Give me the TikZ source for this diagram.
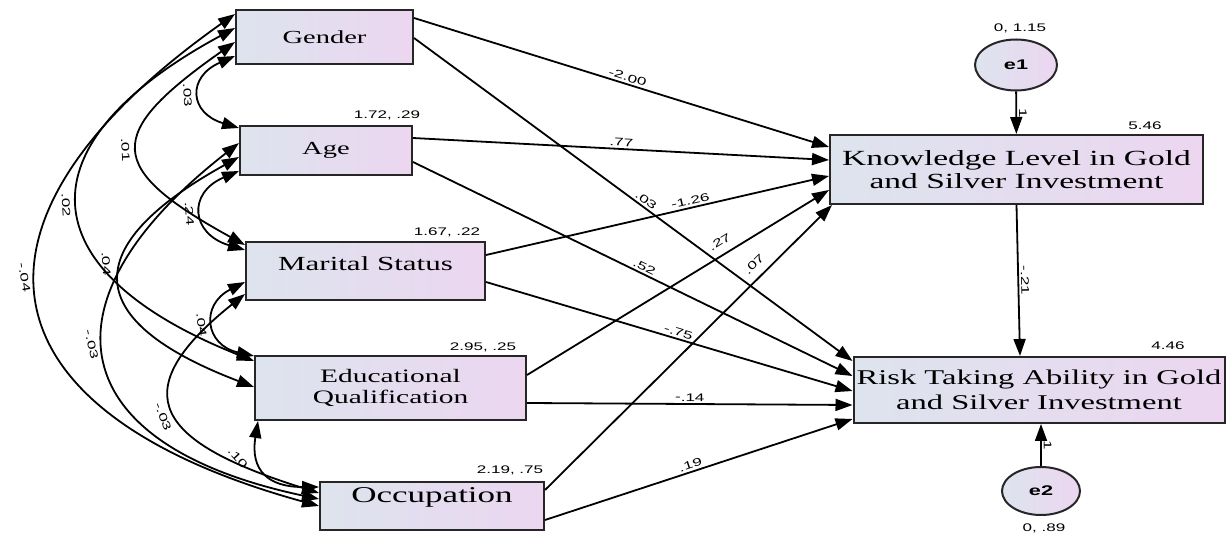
\documentclass[tikz,border=0pt]{standalone}
\usepackage{fontspec}
\usetikzlibrary{arrows.meta,shapes.geometric}
\newfontfamily\boxfont{Liberation Serif}[FakeStretch=1.55]
\newfontfamily\numfont{Liberation Sans}[FakeStretch=1.55]
\definecolor{boxleft}{RGB}{221,228,238}
\definecolor{boxright}{RGB}{236,214,240}
\tikzset{
  amos/.tip={Triangle[length=8.5pt,width=6pt]},
  var/.style={draw=black!85, line width=1pt, left color=boxleft, right color=boxright,
    align=center, inner sep=0pt, font={\boxfont\fontsize{10}{11}\selectfont}},
  err/.style={ellipse, draw=black!85, line width=1pt, left color=boxleft, right color=boxright,
    inner sep=0pt, font={\numfont\bfseries\fontsize{7}{8}\selectfont}},
  est/.style={inner sep=1pt, font={\numfont\fontsize{5.5}{6}\selectfont}},
  reg/.style={-amos, line width=0.9pt},
  cov/.style={amos-amos, line width=0.9pt}
}
\begin{document}
\begin{tikzpicture}[x=0.5pt, y=-0.5pt]
  \useasboundingbox (0,0) rectangle (1226,533);

  % observed variables
  \node[var, minimum width=88.5pt, minimum height=27pt, font={\boxfont\fontsize{9.2}{10}\selectfont}] (gender) at (324.5,37) {Gender};
  \node[var, minimum width=86pt, minimum height=24.5pt, font={\boxfont\fontsize{9.2}{10}\selectfont}] (age) at (326,150.5) {Age};
  \node[var, minimum width=119.5pt, minimum height=29pt, text depth=7.8pt] (marital) at (365.5,271) {Marital Status};
  \node[var, minimum width=135.5pt, minimum height=32pt, font={\boxfont\fontsize{9.5}{10.8}\selectfont}] (edu) at (390.5,388) {Educational\\ Qualification};
  \node[var, minimum width=112pt, minimum height=24pt, text depth=10.8pt, font={\boxfont\fontsize{11.3}{12}\selectfont}] (occ) at (432,506) {Occupation};
  \node[var, minimum width=186.5pt, minimum height=34.5pt, font={\boxfont\fontsize{10.8}{11.5}\selectfont}] (know) at (1016.5,169.5) {Knowledge Level in Gold\\ and Silver Investment};
  \node[var, minimum width=185.5pt, minimum height=33pt, font={\boxfont\fontsize{10.5}{12.5}\selectfont}] (risk) at (1039,390) {Risk Taking Ability in Gold\\ and Silver Investment};

  % error terms
  \node[err, minimum width=41pt, minimum height=25.5pt] (e1) at (1016,65) {e1};
  \node[err, minimum width=39pt, minimum height=24pt] (e2) at (1041,491) {e2};

  % means and variances
  \node[est] (agev) at (387,115) {1.72, .29};
  \node[est] (maritalv) at (447,232) {1.67, .22};
  \node[est] (eduv) at (483,347) {2.95, .25};
  \node[est] (occv) at (510,470) {2.19, .75};
  \node[est] (e1v) at (1020,28) {0, 1.15};
  \node[est] (e2v) at (1044,528) {0, .89};
  \node[est] (knowv) at (1145,126) {5.46};
  \node[est] (riskv) at (1168,346) {4.46};

  % regression weights
  \draw[reg] (gender.east |- 0,18) -- node[est, rotate=-17.2, above, pos=0.51] {-2.00} (know.west |- 0,147);
  \draw[reg] (gender.east |- 0,38) -- node[est, rotate=-36.3, above, pos=0.52] {.03} (risk.west |- 0,361);
  \draw[reg] (age.east |- 0,138) -- node[est, rotate=-3, above, pos=0.5] {.77} (know.west |- 0,160);
  \draw[reg] (age.east |- 0,162) -- node[est, rotate=-25.9, above, pos=0.52] {.52} (risk.west |- 0,376);
  \draw[reg] (marital.east |- 0,255) -- node[est, rotate=12.9, above, pos=0.6] {-1.26} (know.west |- 0,176);
  \draw[reg] (marital.east |- 0,282) -- node[est, rotate=-16.5, above, pos=0.52] {-.75} (risk.west |- 0,391);
  \draw[reg] (edu.east |- 0,375) -- node[est, rotate=31.3, above=3pt, pos=0.66] {.27} (know.west |- 0,190);
  \draw[reg] (edu.east |- 0,403) -- node[est, rotate=-0.4, above, pos=0.5] {-.14} (risk.west |- 0,405);
  \draw[reg] (occ.east |- 0,490) -- node[est, rotate=44.7, above=3pt, pos=0.76] {.07} ([xshift=1.5pt]know.south west);
  \draw[reg] (occ.east |- 0,520) -- node[est, rotate=18.1, above, pos=0.48] {.19} (risk.west |- 0,419);
  \draw[reg] (know.south) -- node[est, rotate=-88.7, above, pos=0.5] {-.21} ([xshift=-9.5pt]risk.north);
  \draw[reg] (e1) -- node[est, rotate=-90, above, pos=0.5] {1} (know);
  \draw[reg] (e2) -- node[est, rotate=-90, above, pos=0.5] {1} (e2 |- risk.south);

  % covariances
  \draw[cov] (gender.west |- 0,56) .. controls +(-48,21) and +(-50,-15) .. (age.west |- 0,128)
    node[est, rotate=-86.8, below=3pt, pos=0.5] {.03};
  \draw[cov] (gender.west |- 0,42) .. controls +(-131,92) and +(-140,-77) .. (marital.west |- 0,245)
    node[est, rotate=-87.2, below=3pt, pos=0.5] {.01};
  \draw[cov] (gender.west |- 0,28) .. controls +(-215,116) and +(-227,-90) .. (edu.west |- 0,361)
    node[est, rotate=-86.7, below=3pt, pos=0.5] {.02};
  \draw[cov] (gender.west |- 0,14) .. controls +(-290,205) and +(-345,-95) .. (occ.west |- 0,506)
    node[est, rotate=-80.3, below=3pt, pos=0.45] {-.04};
  \draw[cov] (age.west |- 0,143) .. controls +(-205,160) and +(-255,-54) .. (occ.west |- 0,499)
    node[est, rotate=-77.3, below=3pt, pos=0.45] {-.03};
  \draw[cov] (age.west |- 0,157) .. controls +(-162,90) and +(-173,-66) .. (edu.west |- 0,387)
    node[est, rotate=-86.3, below=5pt, pos=0.42] {.04};
  \draw[cov] (age.west |- 0,171) .. controls +(-52,22) and +(-54,-16) .. (marital.west |- 0,250)
    node[est, rotate=-85.7, below=3pt, pos=0.5] {.24};
  \draw[cov] (marital.west |- 0,282) .. controls +(-45,23) and +(-49,-11) .. (edu.west |- 0,356)
    node[est, rotate=-83.1, below=3pt, pos=0.5] {.04};
  \draw[cov] (marital.west |- 0,294) .. controls +(-125,100) and +(-160,-50) .. (occ.west |- 0,493)
    node[est, rotate=-69.6, below=3pt, pos=0.5] {-.03};
  \draw[cov] ([xshift=2pt]edu.south west) .. controls +(-8,50) and +(-50,0) .. (occ.west |- 0,487)
    node[est, rotate=-47.7, below=9pt, pos=0.15] {.10};
\end{tikzpicture}
\end{document}
